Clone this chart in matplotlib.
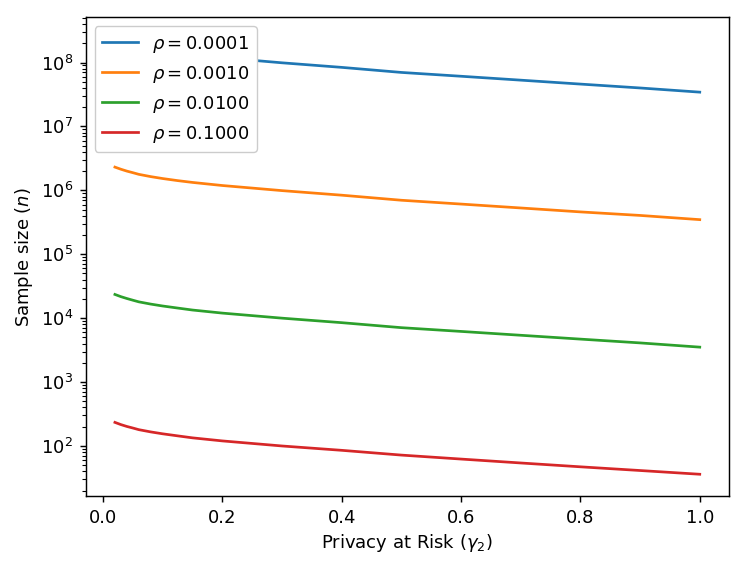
import matplotlib
matplotlib.use('Agg')
import matplotlib.pyplot as plt

# privacy at risk values (x axis)
gamma = [0.02, 0.03, 0.04, 0.05, 0.06, 0.08, 0.1, 0.125, 0.15, 0.2,
         0.3, 0.4, 0.5, 0.6, 0.7, 0.8, 0.9, 1.0]

# sample sizes, one list per rho
n_rho_0001 = [2.33e8, 2.15e8, 2.01e8, 1.90e8, 1.79e8, 1.65e8, 1.54e8, 1.43e8, 1.33e8, 1.19e8,
              9.9e7, 8.4e7, 7.0e7, 6.1e7, 5.3e7, 4.6e7, 4.0e7, 3.44e7]
n_rho_0010 = [2.31e6, 2.14e6, 2.00e6, 1.89e6, 1.78e6, 1.64e6, 1.53e6, 1.42e6, 1.33e6, 1.19e6,
              9.9e5, 8.4e5, 7.0e5, 6.1e5, 5.3e5, 4.6e5, 4.05e5, 3.48e5]
n_rho_0100 = [2.35e4, 2.17e4, 2.03e4, 1.91e4, 1.80e4, 1.66e4, 1.55e4, 1.44e4, 1.34e4, 1.20e4,
              1.0e4, 8.5e3, 7.1e3, 6.2e3, 5.4e3, 4.7e3, 4.1e3, 3.52e3]
n_rho_1000 = [234, 216, 202, 191, 180, 166, 155, 144, 134, 120,
              100, 85.5, 72, 62.4, 54.2, 47.2, 41.3, 36.1]

labels = [r'$\rho = 0.0001$', r'$\rho = 0.0010$', r'$\rho = 0.0100$', r'$\rho = 0.1000$']

# reference looks like the default style rendered bigger
s = 1.3
plt.rcParams.update({
    'font.size': 10 * s,
    'lines.linewidth': 1.5 * s,
    'axes.linewidth': 0.8 * s,
    'xtick.major.size': 3.5 * s, 'ytick.major.size': 3.5 * s,
    'xtick.minor.size': 2 * s, 'ytick.minor.size': 2 * s,
    'xtick.major.width': 0.8 * s, 'ytick.major.width': 0.8 * s,
    'xtick.minor.width': 0.6 * s, 'ytick.minor.width': 0.6 * s,
    'xtick.major.pad': 3.5 * s, 'ytick.major.pad': 3.5 * s,
})

fig = plt.figure(figsize=(7.47, 5.67), dpi=100)
ax = fig.add_axes([0.1147, 0.1252, 0.9759 - 0.1147, 0.9695 - 0.1252])

for series, lab in zip([n_rho_0001, n_rho_0010, n_rho_0100, n_rho_1000], labels):
    ax.plot(gamma, series, label=lab)

ax.set_yscale('log')
ax.set_xlabel(r'Privacy at Risk ($\gamma_2$)')
ax.set_ylabel(r'Sample size ($n$)')
ax.legend(loc='upper left', framealpha=1)

plt.savefig('out.png', dpi=100)
